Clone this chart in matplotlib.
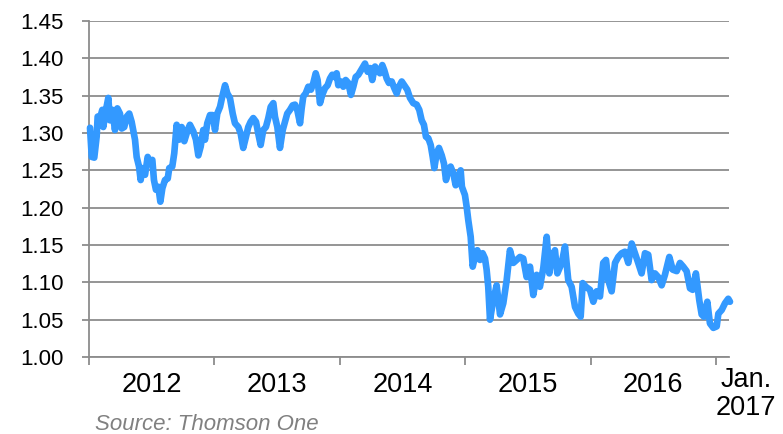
import matplotlib
matplotlib.use("Agg")
import matplotlib.pyplot as plt
import numpy as np

# EUR/USD (decimal years)
t = [2012.008, 2012.022, 2012.042, 2012.061, 2012.069, 2012.088, 2012.106, 2012.114,
     2012.133, 2012.154, 2012.167, 2012.186, 2012.207, 2012.226, 2012.247, 2012.261,
     2012.281, 2012.301, 2012.321, 2012.340, 2012.367, 2012.380, 2012.399, 2012.412,
     2012.425, 2012.447, 2012.468, 2012.486, 2012.505, 2012.518, 2012.534, 2012.553,
     2012.569, 2012.585, 2012.606, 2012.628, 2012.640, 2012.664, 2012.680, 2012.699,
     2012.718, 2012.739, 2012.760, 2012.787, 2012.805, 2012.832, 2012.853, 2012.872,
     2012.891, 2012.911, 2012.925, 2012.943, 2012.965, 2012.986, 2013.005, 2013.023,
     2013.045, 2013.063, 2013.085, 2013.103, 2013.124, 2013.146, 2013.164, 2013.191,
     2013.210, 2013.230, 2013.252, 2013.270, 2013.289, 2013.310, 2013.332, 2013.350,
     2013.369, 2013.390, 2013.411, 2013.430, 2013.449, 2013.470, 2013.483, 2013.502,
     2013.523, 2013.545, 2013.563, 2013.581, 2013.603, 2013.624, 2013.643, 2013.662,
     2013.683, 2013.696, 2013.709, 2013.728, 2013.749, 2013.770, 2013.789, 2013.808,
     2013.823, 2013.842, 2013.860, 2013.882, 2013.903, 2013.922, 2013.940, 2013.956,
     2013.975, 2013.988, 2014.010, 2014.028, 2014.047, 2014.068, 2014.089, 2014.108,
     2014.127, 2014.148, 2014.169, 2014.187, 2014.201, 2014.222, 2014.241, 2014.259,
     2014.281, 2014.302, 2014.320, 2014.339, 2014.355, 2014.374, 2014.392, 2014.414,
     2014.435, 2014.454, 2014.472, 2014.494, 2014.514, 2014.538, 2014.560, 2014.586,
     2014.613, 2014.634, 2014.653, 2014.671, 2014.687, 2014.706, 2014.725, 2014.741,
     2014.754, 2014.773, 2014.791, 2014.813, 2014.831, 2014.847, 2014.865, 2014.884,
     2014.905, 2014.924, 2014.945, 2014.964, 2014.974, 2014.998, 2015.012, 2015.025,
     2015.044, 2015.060, 2015.078, 2015.097, 2015.118, 2015.139, 2015.158, 2015.171,
     2015.184, 2015.198, 2015.224, 2015.251, 2015.278, 2015.304, 2015.331, 2015.357,
     2015.384, 2015.411, 2015.437, 2015.463, 2015.490, 2015.517, 2015.543, 2015.570,
     2015.596, 2015.623, 2015.650, 2015.671, 2015.690, 2015.716, 2015.735, 2015.770,
     2015.796, 2015.822, 2015.849, 2015.876, 2015.902, 2015.921, 2015.937, 2015.963,
     2015.995, 2016.022, 2016.049, 2016.075, 2016.101, 2016.123, 2016.141, 2016.168,
     2016.195, 2016.221, 2016.248, 2016.274, 2016.301, 2016.328, 2016.354, 2016.380,
     2016.407, 2016.434, 2016.460, 2016.487, 2016.513, 2016.540, 2016.567, 2016.593,
     2016.628, 2016.655, 2016.687, 2016.713, 2016.739, 2016.766, 2016.793, 2016.814,
     2016.840, 2016.867, 2016.886, 2016.904, 2016.931, 2016.952, 2016.979, 2017.006,
     2017.019, 2017.046, 2017.072, 2017.098, 2017.112]

rate = [1.307, 1.268, 1.267, 1.295, 1.322, 1.320, 1.331, 1.308,
        1.329, 1.347, 1.317, 1.331, 1.304, 1.333, 1.326, 1.306,
        1.308, 1.322, 1.326, 1.315, 1.291, 1.268, 1.255, 1.237,
        1.253, 1.244, 1.268, 1.259, 1.264, 1.237, 1.224, 1.228,
        1.208, 1.226, 1.237, 1.239, 1.253, 1.255, 1.273, 1.311,
        1.291, 1.308, 1.289, 1.304, 1.311, 1.302, 1.291, 1.270,
        1.282, 1.304, 1.291, 1.313, 1.324, 1.324, 1.304, 1.326,
        1.335, 1.349, 1.364, 1.353, 1.347, 1.326, 1.313, 1.308,
        1.299, 1.280, 1.295, 1.308, 1.315, 1.320, 1.315, 1.299,
        1.284, 1.304, 1.308, 1.320, 1.335, 1.340, 1.322, 1.308,
        1.280, 1.304, 1.315, 1.326, 1.331, 1.337, 1.338, 1.330,
        1.313, 1.333, 1.349, 1.353, 1.362, 1.358, 1.367, 1.380,
        1.371, 1.340, 1.351, 1.360, 1.364, 1.373, 1.378, 1.375,
        1.380, 1.364, 1.369, 1.362, 1.371, 1.367, 1.351, 1.362,
        1.375, 1.378, 1.384, 1.389, 1.393, 1.382, 1.387, 1.371,
        1.389, 1.384, 1.380, 1.391, 1.384, 1.373, 1.367, 1.369,
        1.360, 1.353, 1.362, 1.369, 1.364, 1.358, 1.347, 1.340,
        1.338, 1.331, 1.317, 1.311, 1.295, 1.293, 1.284, 1.268,
        1.253, 1.273, 1.280, 1.270, 1.259, 1.237, 1.250, 1.255,
        1.246, 1.230, 1.242, 1.250, 1.228, 1.217, 1.201, 1.183,
        1.161, 1.121, 1.134, 1.143, 1.130, 1.139, 1.132, 1.117,
        1.094, 1.050, 1.076, 1.096, 1.057, 1.072, 1.103, 1.143,
        1.126, 1.130, 1.134, 1.132, 1.107, 1.121, 1.083, 1.110,
        1.094, 1.119, 1.161, 1.112, 1.134, 1.143, 1.112, 1.126,
        1.148, 1.103, 1.094, 1.067, 1.058, 1.054, 1.099, 1.094,
        1.090, 1.074, 1.088, 1.081, 1.126, 1.130, 1.103, 1.088,
        1.126, 1.134, 1.139, 1.141, 1.126, 1.152, 1.139, 1.126,
        1.112, 1.139, 1.137, 1.103, 1.112, 1.107, 1.096, 1.110,
        1.134, 1.117, 1.115, 1.126, 1.121, 1.115, 1.092, 1.090,
        1.112, 1.076, 1.057, 1.054, 1.074, 1.045, 1.039, 1.041,
        1.058, 1.063, 1.072, 1.078, 1.074]

years = [2012, 2013, 2014, 2015, 2016, 2017]
year_labels = ["2012", "2013", "2014", "2015", "2016"]
yticks = [1.00, 1.05, 1.10, 1.15, 1.20, 1.25, 1.30, 1.35, 1.40, 1.45]

plt.rcParams['font.family'] = ['Liberation Sans', 'DejaVu Sans']
grey = '#8c8c8c'

fig = plt.figure(figsize=(7.83, 4.34), dpi=100)
ax = fig.add_axes([89 / 783, 1 - 357 / 434, 640 / 783, 336 / 434])

ax.plot(t, rate, color='#3399ff', lw=4.8, solid_joinstyle='round',
        solid_capstyle='round', clip_on=False, zorder=3)

ax.set_xlim(2012.0, 2017.104)
ax.set_ylim(1.00, 1.45)

ax.set_yticks(yticks)
ax.set_yticklabels(["%.2f" % v for v in yticks])
ax.yaxis.grid(True, color=grey, lw=1.3)
ax.set_axisbelow(True)

ax.set_xticks(years)
ax.set_xticklabels([""] * len(years))
ax.set_xticks([y + 0.5 for y in years[:-1]], minor=True)
ax.set_xticklabels(year_labels, minor=True)

ax.tick_params(axis='y', length=5, width=1.3, color=grey, labelsize=16, pad=13)
ax.tick_params(axis='x', which='major', length=6, width=1.3, color=grey)
ax.tick_params(axis='x', which='minor', length=0, labelsize=19.5, pad=11)

for s in ['top', 'right']:
    ax.spines[s].set_visible(False)
ax.spines['left'].set_color(grey)
ax.spines['left'].set_linewidth(1.3)
ax.spines['bottom'].set_color(grey)
ax.spines['bottom'].set_linewidth(1.3)

ax.text(2017.239, -0.029, "Jan.\n2017", transform=ax.get_xaxis_transform(),
        ha='center', va='top', fontsize=19.5, linespacing=1.12, clip_on=False)

fig.text(95 / 783, 4 / 434, "Source: Thomson One", fontsize=16, style='italic',
         color='#808080', ha='left', va='baseline')

fig.savefig("out.png", dpi=100)
